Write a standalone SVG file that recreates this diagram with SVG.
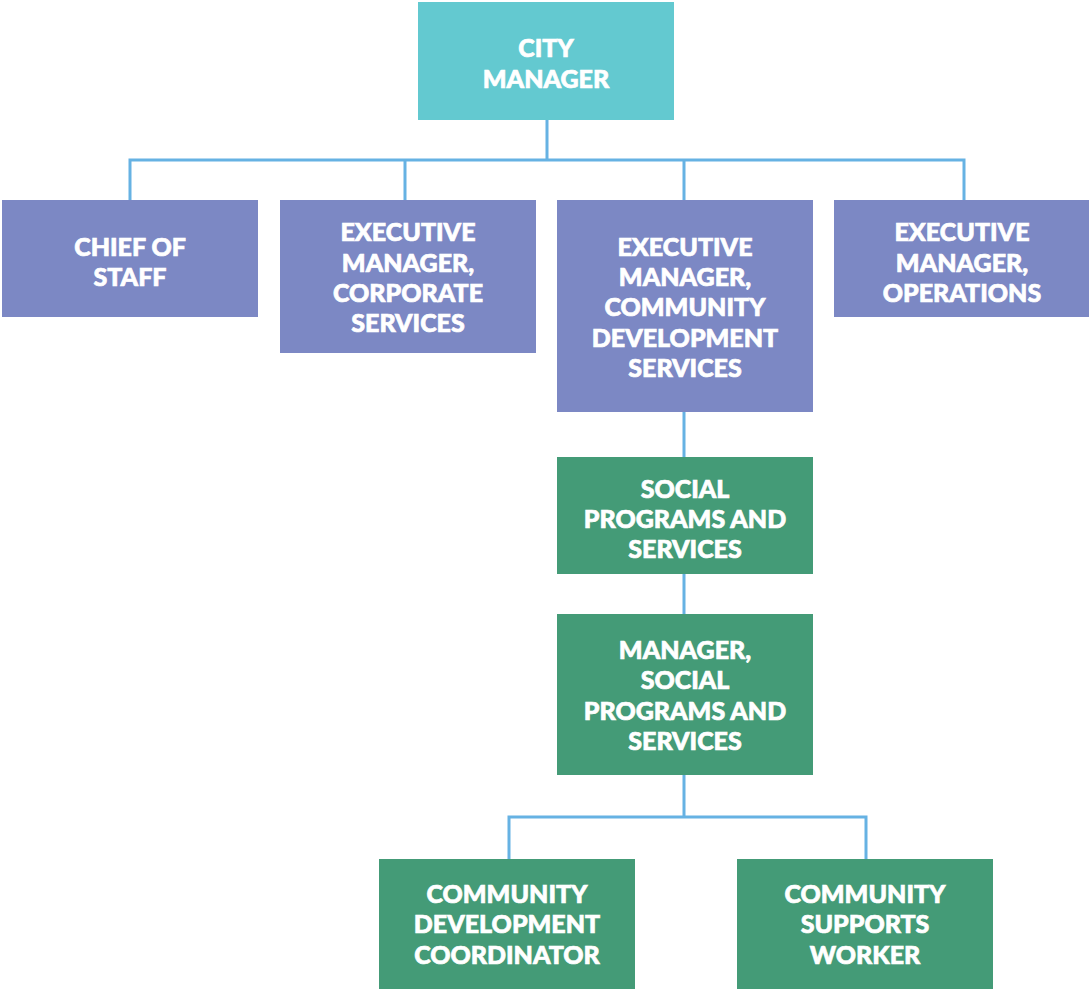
<svg xmlns="http://www.w3.org/2000/svg" width="1089" height="989" viewBox="0 0 1089 989">
<style>
.t{fill:#fff;stroke:#fff;stroke-width:0.7;font-family:Lato,"Noto Sans","Liberation Sans",sans-serif;font-weight:900;font-size:25px;text-anchor:middle}
.teal{fill:#63c9d0}.pur{fill:#7c88c4}.grn{fill:#449b77}
.c{fill:none;stroke:#66b2e3;stroke-width:3}
</style>
<rect width="1089" height="989" fill="#fff"/>
<g id="connectors">
<path class="c" d="M547 120V160M130 200V160H964V200M405 160V200M684 160V200"/>
<path class="c" d="M684 412V457M684 574V614M684 775V817M509 859V817H866V859"/>
</g>
<g id="city-manager"><rect class="teal" x="418" y="2" width="256" height="118"/>
<text class="t" x="546" y="57">CITY</text><text class="t" x="546" y="88">MANAGER</text></g>
<g id="chief-of-staff"><rect class="pur" x="2" y="200" width="256" height="117"/>
<text class="t" x="130" y="256">CHIEF OF</text><text class="t" x="130" y="286">STAFF</text></g>
<g id="exec-corporate"><rect class="pur" x="280" y="200" width="256" height="153"/>
<text class="t" x="408" y="241">EXECUTIVE</text><text class="t" x="408" y="272">MANAGER,</text><text class="t" x="408" y="302">CORPORATE</text><text class="t" x="408" y="332">SERVICES</text></g>
<g id="exec-community"><rect class="pur" x="557" y="200" width="256" height="212"/>
<text class="t" x="685" y="256">EXECUTIVE</text><text class="t" x="685" y="286">MANAGER,</text><text class="t" x="685" y="316">COMMUNITY</text><text class="t" x="685" y="347">DEVELOPMENT</text><text class="t" x="685" y="377">SERVICES</text></g>
<g id="exec-operations"><rect class="pur" x="834" y="200" width="255" height="117"/>
<text class="t" x="962" y="241">EXECUTIVE</text><text class="t" x="962" y="272">MANAGER,</text><text class="t" x="962" y="302">OPERATIONS</text></g>
<g id="social-programs"><rect class="grn" x="557" y="457" width="256" height="117"/>
<text class="t" x="685" y="498">SOCIAL</text><text class="t" x="685" y="528">PROGRAMS AND</text><text class="t" x="685" y="558">SERVICES</text></g>
<g id="manager-social"><rect class="grn" x="557" y="614" width="256" height="161"/>
<text class="t" x="685" y="659">MANAGER,</text><text class="t" x="685" y="689">SOCIAL</text><text class="t" x="685" y="720">PROGRAMS AND</text><text class="t" x="685" y="750">SERVICES</text></g>
<g id="cd-coordinator"><rect class="grn" x="379" y="859" width="256" height="130"/>
<text class="t" x="507" y="903">COMMUNITY</text><text class="t" x="507" y="933">DEVELOPMENT</text><text class="t" x="507" y="964">COORDINATOR</text></g>
<g id="cs-worker"><rect class="grn" x="737" y="859" width="256" height="130"/>
<text class="t" x="865" y="903">COMMUNITY</text><text class="t" x="865" y="933">SUPPORTS</text><text class="t" x="865" y="964">WORKER</text></g>
</svg>
